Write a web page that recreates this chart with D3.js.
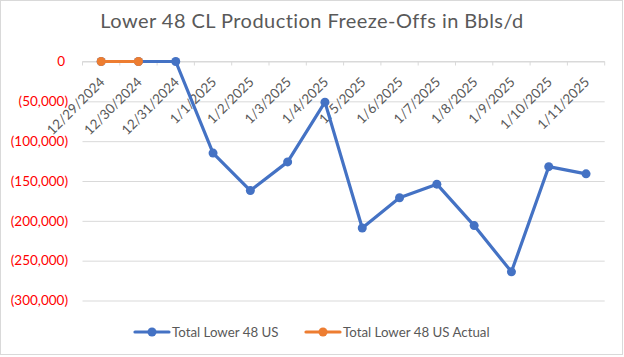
<!DOCTYPE html>
<html><head><meta charset="utf-8">
<script src="https://cdn.jsdelivr.net/npm/d3@7"></script>
<style>
html,body{margin:0;padding:0;background:#fff;}
svg{display:block;font-family:"Lato","Open Sans",sans-serif;}
</style></head>
<body><svg id="chart" width="624" height="357"></svg>
<script>
const categories = ["12/29/2024","12/30/2024","12/31/2024","1/1/2025","1/2/2025","1/3/2025","1/4/2025","1/5/2025","1/6/2025","1/7/2025","1/8/2025","1/9/2025","1/10/2025","1/11/2025"];
const totalLower48 = [0,0,0,-115000,-162000,-126000,-51000,-209000,-171000,-154000,-206000,-264000,-132000,-141000];
const totalLower48Actual = [0,0,null,null,null,null,null,null,null,null,null,null,null,null];
const yTicks = [0,-50000,-100000,-150000,-200000,-250000,-300000];
const title = "Lower 48 CL Production Freeze-Offs in Bbls/d";
const seriesNames = ["Total Lower 48 US","Total Lower 48 US Actual"];
const colors = ["#4472C4","#ED7D31"];

(function(){
const svg = d3.select("#chart");
const pLeft = 82.5, pRight = 604.7, pTop = 61.5, pBottom = 300.5;

svg.append("rect").attr("x",0.5).attr("y",0.5).attr("width",622).attr("height",354)
  .attr("fill","#fff").attr("stroke","#d9d9d9").attr("stroke-width",1);

svg.append("text").attr("x",312).attr("y",28).attr("text-anchor","middle")
  .attr("font-size",20).attr("letter-spacing",0.45).attr("fill","#595959").text(title);

const x = d3.scaleBand().domain(categories).range([pLeft,pRight]);
const y = d3.scaleLinear().domain([-300000,0]).range([pBottom,pTop]);

const grid = svg.append("g").attr("transform",`translate(${pLeft},0)`)
  .call(d3.axisLeft(y).tickValues(yTicks).tickSize(-(pRight-pLeft)).tickFormat(""));
grid.select(".domain").remove();
grid.selectAll(".tick line").attr("stroke","#d9d9d9").attr("stroke-width",1);

const fmt = v => v < 0 ? "(" + d3.format(",")(-v) + ")" : "0";
const yAx = svg.append("g").attr("transform",`translate(68,0)`)
  .call(d3.axisLeft(y).tickValues(yTicks).tickSize(0).tickPadding(0).tickFormat(fmt));
yAx.select(".domain").remove();
yAx.selectAll("text").attr("fill","#FF0000").attr("font-size",13.5)
  .attr("font-family","Lato,'Open Sans',sans-serif")
  .attr("dx", d => d === 0 ? -3 : 0);

const y0 = y(0);
svg.append("line").attr("x1",pLeft).attr("x2",pRight).attr("y1",y0).attr("y2",y0)
  .attr("stroke","#d9d9d9").attr("stroke-width",1);
const bounds = categories.map(c => x(c)).concat([pRight]);
svg.append("g").selectAll("line").data(bounds).join("line")
  .attr("x1",d=>d).attr("x2",d=>d).attr("y1",y0).attr("y2",y0+4)
  .attr("stroke","#d9d9d9").attr("stroke-width",1);

const xAx = svg.append("g").attr("transform",`translate(0,${y0})`)
  .call(d3.axisBottom(x).tickSize(0).tickPadding(0));
xAx.select(".domain").remove();
xAx.selectAll("text")
  .attr("font-size",13.5).attr("fill","#595959")
  .attr("font-family","Lato,'Open Sans',sans-serif")
  .attr("text-anchor","end")
  .attr("dy","0.35em")
  .attr("transform","translate(1,18) rotate(-45)");

const seriesData = [totalLower48, totalLower48Actual];
const line = d3.line().defined(d => d.v !== null).x(d => x(d.c) + x.bandwidth()/2).y(d => y(d.v));
seriesData.forEach((arr,i) => {
  const pts = categories.map((c,j) => ({c, v: arr[j]}));
  const g = svg.append("g");
  g.append("path").datum(pts).attr("d",line).attr("fill","none")
    .attr("stroke",colors[i]).attr("stroke-width",3.2).attr("stroke-linejoin","round").attr("stroke-linecap","round");
  g.selectAll("circle").data(pts.filter(d=>d.v!==null)).join("circle")
    .attr("cx",d=>x(d.c)+x.bandwidth()/2).attr("cy",d=>y(d.v)).attr("r",4.5).attr("fill",colors[i]);
});

const legendItems = [{name:seriesNames[0],color:colors[0],x0:135},{name:seriesNames[1],color:colors[1],x0:306}];
const lg = svg.append("g");
legendItems.forEach(it => {
  lg.append("line").attr("x1",it.x0).attr("x2",it.x0+34).attr("y1",332).attr("y2",332)
    .attr("stroke",it.color).attr("stroke-width",3.2).attr("stroke-linecap","round");
  lg.append("circle").attr("cx",it.x0+17).attr("cy",332).attr("r",4.5).attr("fill",it.color);
  lg.append("text").attr("x",it.x0+37).attr("y",336.5).attr("font-size",13.3).attr("fill","#595959").text(it.name);
});
})();
</script></body></html>
